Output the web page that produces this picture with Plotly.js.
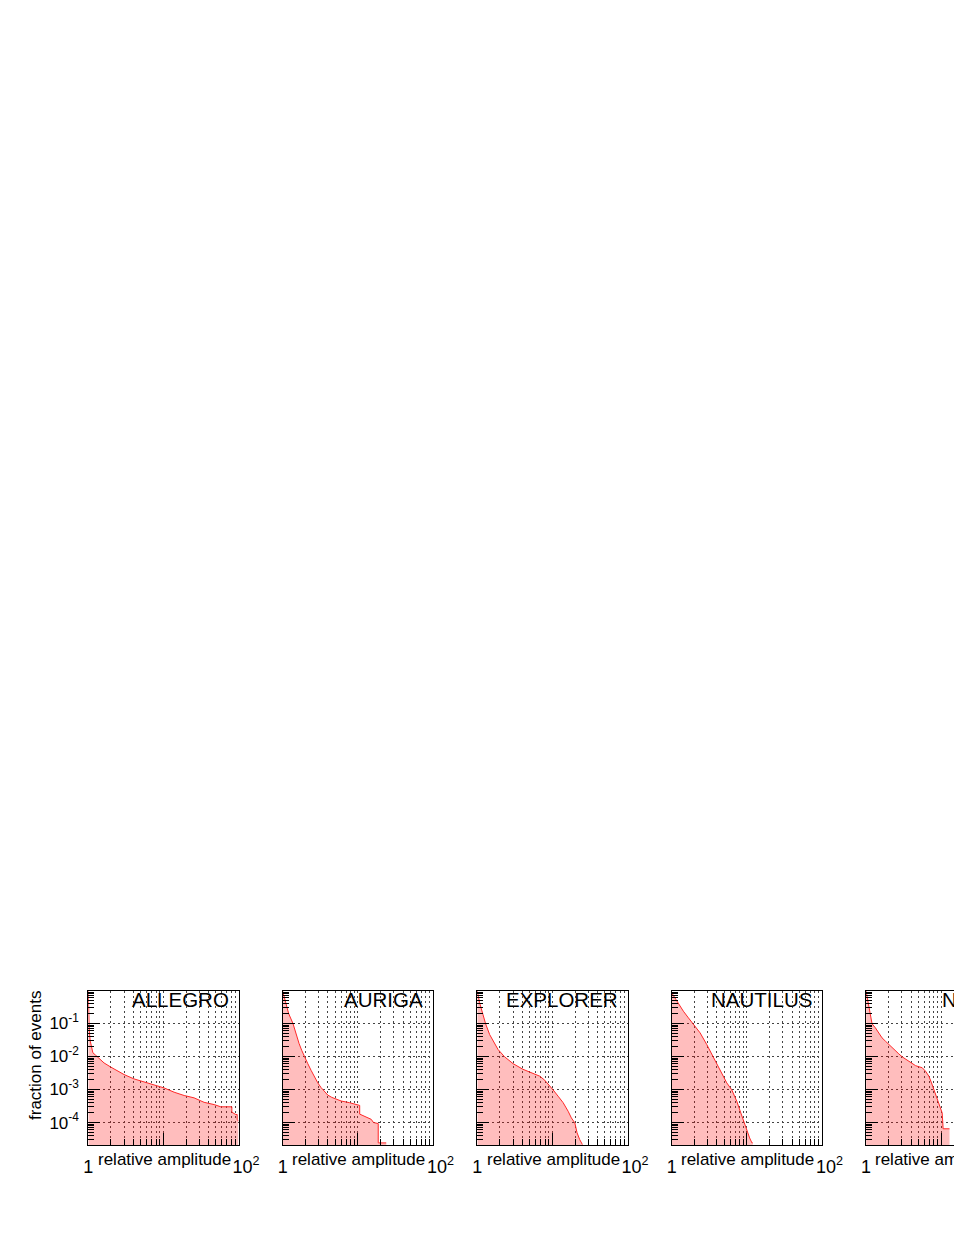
<!DOCTYPE html>
<html>
<head>
<meta charset="utf-8">
<script src="https://cdn.plot.ly/plotly-3.0.1.min.js"></script>
<style>
  html, body { margin: 0; padding: 0; overflow: hidden; background: #fff; }
  #chart { width: 1030px; height: 1234px; }
</style>
</head>
<body>
<div id="chart"></div>
<script>
// detector names, one panel each
const detectors = ["ALLEGRO", "AURIGA", "EXPLORER", "NAUTILUS", "NIOBE"];

// relative amplitude and fraction of events above it
// (repeated x values are the visible vertical drops of the histograms)
const allegroAmp = [1.0, 1.005, 1.03, 1.06, 1.1, 1.15, 1.25, 1.32, 1.46, 1.62, 1.99, 2.44, 2.99, 4.06, 5.52, 7.5, 10.2, 13.9, 18.9, 25.6, 34.8, 47.4, 58.1, 81.5, 81.5, 92.1, 96, 96, 100];
const allegroFrac = [0.955, 0.2, 0.06, 0.03, 0.018, 0.013, 0.011, 0.0098, 0.0077, 0.0064, 0.0048, 0.0036, 0.00285, 0.0021, 0.0017, 0.00145, 0.00112, 0.00083, 0.00066, 0.00056, 0.00041, 0.00035, 0.0003, 0.0003, 0.000206, 0.000175, 0.000175, 0.000125, 0.00011];

const aurigaAmp = [1.0, 1.1, 1.2, 1.37, 1.5, 1.65, 1.8, 1.94, 2.15, 2.39, 2.64, 2.93, 3.24, 3.59, 3.98, 4.5, 5.2, 6.0, 7.74, 9.5, 10.6, 10.6, 12.9, 15.1, 16.2, 18.7, 18.7, 23.9];
const aurigaFrac = [0.955, 0.45, 0.2, 0.1, 0.05, 0.025, 0.015, 0.0098, 0.0062, 0.0038, 0.0024, 0.0016, 0.00115, 0.00085, 0.00068, 0.00058, 0.0005, 0.00045, 0.0004, 0.00035, 0.00033, 0.00018, 0.00015, 0.000125, 0.0001, 0.0000933, 0.0000242, 0.0000242];

const explorerAmp = [1.0, 1.074, 1.19, 1.29, 1.46, 1.62, 1.89, 2.31, 2.99, 4.06, 5.25, 6.78, 7.9, 9.2, 10.2, 11.9, 13.9, 16.2, 17.9, 19.9, 21.3, 23.1, 25.1];
const explorerFrac = [0.955, 0.423, 0.187, 0.098, 0.0464, 0.0292, 0.0163, 0.0098, 0.0061, 0.0041, 0.0032, 0.00254, 0.00192, 0.00132, 0.00098, 0.00063, 0.0004, 0.00022, 0.000138, 0.0000977, 0.000049, 0.0000305, 0.0000215];

const nautilusAmp = [1.0, 1.166, 1.43, 1.67, 1.94, 2.39, 2.93, 3.59, 4.41, 5.41, 6.31, 7.36, 8.32, 9.21, 10.0, 10.9, 11.7, 12.0];
const nautilusFrac = [0.85, 0.475, 0.236, 0.148, 0.098, 0.052, 0.0231, 0.0098, 0.004, 0.00159, 0.00098, 0.00044, 0.000196, 0.0000977, 0.0000617, 0.0000343, 0.0000242, 0.0000242];

const niobeAmp = [1.0, 1.085, 1.14, 1.2, 1.33, 1.48, 1.63, 1.81, 2.0, 2.22, 2.46, 2.73, 3.02, 3.35, 3.71, 4.1, 4.55, 5.04, 5.58, 6.18, 6.85, 7.43, 7.98, 8.58, 9.12, 9.8, 10.3, 10.5, 10.6, 12.9];
const niobeFrac = [0.955, 0.335, 0.167, 0.098, 0.074, 0.052, 0.0368, 0.0292, 0.0231, 0.0183, 0.0145, 0.012, 0.0098, 0.0085, 0.0072, 0.0061, 0.0053, 0.0049, 0.0046, 0.0036, 0.00254, 0.00159, 0.00098, 0.00063, 0.00044, 0.00028, 0.000196, 0.0001, 0.0000647, 0.0000647];

const amps = [allegroAmp, aurigaAmp, explorerAmp, nautilusAmp, niobeAmp];
const fracs = [allegroFrac, aurigaFrac, explorerFrac, nautilusFrac, niobeFrac];

// axis ticks
const xMajor = [1, 10, 100];
const xMajorText = ["1", "", "\u00a0\u00a0\u00a010<sup>2</sup>"];
const xMinor = [2, 3, 4, 5, 6, 7, 8, 9, 20, 30, 40, 50, 60, 70, 80, 90];
const yMajor = [1e-4, 1e-3, 1e-2, 1e-1];
const yMajorText = ["10<sup>-4</sup>", "10<sup>-3</sup>", "10<sup>-2</sup>", "10<sup>-1</sup>"];
const yMinor = [];
for (let e = -5; e <= -1; e++) {
    for (let k = 2; k <= 9; k++) yMinor.push(k * Math.pow(10, e));
}

// page geometry (paper is wider than the window, last panel is cut off)
const W = 1030, H = 1234;
const panelLeft = [88.3, 282.7, 477.3, 671.7, 866.1];
const panelWidth = 150.2;
const plotTop = 990.5, plotBottom = 1145;

const font = "Liberation Sans, Arial, Helvetica, sans-serif";

let data = [];
let layout = {
    width: W,
    height: H,
    margin: { l: 0, r: 0, t: 0, b: 0 },
    paper_bgcolor: "white",
    plot_bgcolor: "white",
    showlegend: false,
    font: { family: font, color: "black" },
    annotations: []
};

detectors.forEach(function (name, i) {
    let xs = i === 0 ? "" : String(i + 1);
    data.push({
        type: "scatter",
        mode: "lines",
        x: amps[i],
        y: fracs[i],
        xaxis: "x" + xs,
        yaxis: "y" + xs,
        line: { color: "rgb(255,40,40)", width: 1 },
        fill: "tozeroy",
        fillcolor: "rgba(255,0,0,0.26)",
        hoverinfo: "x+y"
    });

    layout["xaxis" + xs] = {
        type: "log",
        range: [0, 2],
        domain: [panelLeft[i] / W, (panelLeft[i] + panelWidth) / W],
        anchor: "y" + xs,
        tickmode: "array",
        tickvals: xMajor,
        ticktext: xMajorText,
        ticks: "inside",
        ticklen: 12,
        tickcolor: "black",
        ticklabelstandoff: 5,
        tickfont: { size: 18, family: font },
        showline: true,
        linecolor: "black",
        linewidth: 1,
        mirror: true,
        showgrid: true,
        gridcolor: "#444",
        griddash: "2px,3px",
        gridwidth: 1,
        zeroline: false,
        minor: {
            tickmode: "array",
            tickvals: xMinor,
            ticks: "inside",
            ticklen: 6,
            tickcolor: "black",
            showgrid: true,
            gridcolor: "#444",
            griddash: "2px,3px",
            gridwidth: 1
        }
    };

    layout["yaxis" + xs] = {
        type: "log",
        range: [-4.68, 0],
        domain: [(H - plotBottom) / H, (H - plotTop) / H],
        anchor: "x" + xs,
        tickmode: "array",
        tickvals: yMajor,
        ticktext: yMajorText,
        showticklabels: i === 0,
        ticks: "inside",
        ticklen: 12,
        tickcolor: "black",
        ticklabelstandoff: 5,
        tickfont: { size: 17, family: font },
        showline: true,
        linecolor: "black",
        linewidth: 1,
        mirror: true,
        showgrid: true,
        gridcolor: "#444",
        griddash: "2px,3px",
        gridwidth: 1,
        zeroline: false,
        minor: {
            tickmode: "array",
            tickvals: yMinor,
            ticks: "inside",
            ticklen: 6,
            tickcolor: "black",
            showgrid: false
        }
    };

    // detector name in the top right corner
    layout.annotations.push({
        text: name,
        xref: "x" + xs + " domain",
        yref: "y" + xs + " domain",
        x: 0.948,
        y: 0.94,
        xanchor: "right",
        yanchor: "middle",
        showarrow: false,
        font: { size: 20.5, family: font, color: "black" }
    });

    // x axis title sits between the tick labels
    layout.annotations.push({
        text: "relative amplitude",
        xref: "x" + xs + " domain",
        yref: "y" + xs + " domain",
        x: 0.505,
        y: -0.097,
        xanchor: "center",
        yanchor: "middle",
        showarrow: false,
        font: { size: 17, family: font, color: "black" }
    });
});

// y axis title on the first panel
layout.annotations.push({
    text: "fraction of events",
    xref: "paper",
    yref: "paper",
    x: 35 / W,
    y: (H - 1056) / H,
    xanchor: "center",
    yanchor: "middle",
    textangle: -90,
    showarrow: false,
    font: { size: 17, family: font, color: "black" }
});

Plotly.newPlot("chart", data, layout, { displayModeBar: false, staticPlot: true });
</script>
</body>
</html>
